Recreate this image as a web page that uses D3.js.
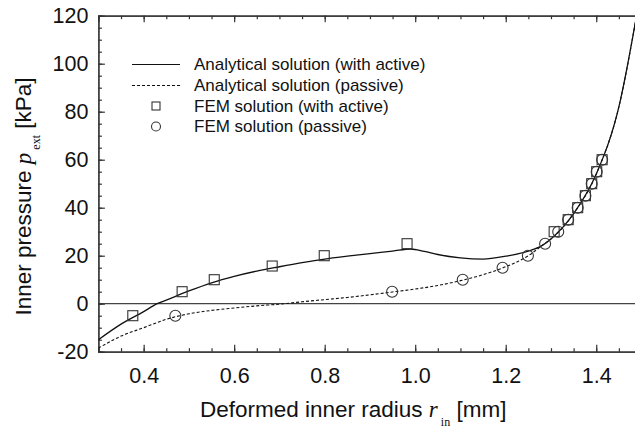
<!DOCTYPE html>
<html><head><meta charset="utf-8">
<script src="https://cdn.jsdelivr.net/npm/d3@7"></script>
<style>body{margin:0;background:#fff}svg{display:block}</style>
</head><body>
<script>
// Analytical solution (with active)
const activeX = [0.30,0.35,0.40,0.43,0.45,0.50,0.55,0.60,0.65,0.70,0.75,0.80,0.85,0.90,0.95,0.99,1.02,1.05,1.10,1.15,1.20,1.25,1.28,1.30,1.35,1.40,1.45,1.49];
const activeY = [-15,-8.5,-3.3,0,1.5,5.3,8.7,11.4,13.6,15.4,17.1,18.6,19.8,20.9,21.9,22.8,21.8,20.5,19.1,18.6,19.8,21.9,24.2,27,37.5,54,82,121];
// Analytical solution (passive)
const passiveX = [0.30,0.35,0.40,0.45,0.50,0.55,0.60,0.65,0.70,0.75,0.80,0.85,0.90,0.95,1.00,1.05,1.10,1.15,1.20,1.25,1.28,1.30,1.35,1.40,1.45,1.49];
const passiveY = [-18.5,-13.5,-10,-6.5,-4.2,-2.8,-1.8,-0.9,-0.2,0.8,1.7,2.6,3.7,4.9,6.1,7.6,9.6,12.1,15.4,20.0,24.2,27,37.5,54,82,121];
// FEM solution (with active)
const femActiveX = [0.376,0.485,0.556,0.684,0.799,0.982,1.307,1.338,1.359,1.376,1.390,1.401,1.413];
const femActiveY = [-5,5,10,15.7,20,25,30,35,40,45,50,55,60];
// FEM solution (passive)
const femPassiveX = [0.470,0.949,1.105,1.193,1.249,1.287,1.316,1.338,1.359,1.376,1.390,1.401,1.413];
const femPassiveY = [-5,5,10,15,20,25,30,35,40,45,50,55,60];
const xTicks = [0.4,0.6,0.8,1.0,1.2,1.4];
const yTicks = [-20,0,20,40,60,80,100,120];
const legendLabels = ["Analytical solution (with active)","Analytical solution (passive)","FEM solution (with active)","FEM solution (passive)"];

const W = 635, H = 429;
const svg = d3.select("body").append("svg").attr("width", W).attr("height", H);
const x = d3.scaleLinear().domain([0.3, 1.5]).range([98.4, 641.5]);
const y = d3.scaleLinear().domain([-20, 120]).range([351.7, 15.7]);
const axisColor = "#333";
const font = "Liberation Sans, Arial, sans-serif";
const serif = "Liberation Serif, Times New Roman, serif";

svg.append("clipPath").attr("id","c").append("rect")
  .attr("x", x(0.3)).attr("y", y(120)).attr("width", x(1.5)-x(0.3)).attr("height", y(-20)-y(120));

// zero line
svg.append("line").attr("x1", x(0.3)).attr("x2", x(1.5)).attr("y1", y(0)).attr("y2", y(0))
  .attr("stroke", "#444").attr("stroke-width", 1.2);

const minorX = d3.range(0.30, 1.5001, 0.05).map(v => +v.toFixed(2));
const minorY = d3.range(-20, 120.001, 5);

function styleAxis(g){ g.select(".domain").attr("stroke", axisColor).attr("stroke-width",1.2);
  g.selectAll(".tick line").attr("stroke", axisColor).attr("stroke-width",1.2); }

// bottom minor
svg.append("g").attr("transform",`translate(0,${y(-20)})`)
  .call(d3.axisTop(x).tickValues(minorX).tickSize(3.5).tickFormat("")).call(styleAxis);
// bottom major
const bx = svg.append("g").attr("transform",`translate(0,${y(-20)})`)
  .call(d3.axisBottom(x).tickValues(xTicks).tickSizeInner(-7).tickSizeOuter(0).tickPadding(16).tickFormat(d => d.toFixed(1)))
  .call(styleAxis);
bx.selectAll("text").attr("font-family", font).attr("font-size", 21.5).attr("fill","#111");
// top
svg.append("g").attr("transform",`translate(0,${y(120)})`)
  .call(d3.axisBottom(x).tickValues(minorX).tickSize(3.5).tickFormat("")).call(styleAxis);
svg.append("g").attr("transform",`translate(0,${y(120)})`)
  .call(d3.axisBottom(x).tickValues(xTicks).tickSize(6.5).tickFormat("")).call(styleAxis);
// left
svg.append("g").attr("transform",`translate(${x(0.3)},0)`)
  .call(d3.axisRight(y).tickValues(minorY).tickSize(3.5).tickFormat("")).call(styleAxis);
const ly = svg.append("g").attr("transform",`translate(${x(0.3)},0)`)
  .call(d3.axisLeft(y).tickValues(yTicks).tickSizeInner(-6.5).tickSizeOuter(0).tickPadding(10).tickFormat(d => String(d)))
  .call(styleAxis);
ly.selectAll("text").attr("font-family", font).attr("font-size", 21.5).attr("fill","#111");

// curves
const plot = svg.append("g").attr("clip-path","url(#c)");
const line = d3.line().x(d => x(d[0])).y(d => y(d[1])).curve(d3.curveMonotoneX);
plot.append("path").datum(d3.zip(passiveX, passiveY)).attr("d", line)
  .attr("fill","none").attr("stroke","#111").attr("stroke-width",1.1).attr("stroke-dasharray","3,2");
plot.append("path").datum(d3.zip(activeX, activeY)).attr("d", line)
  .attr("fill","none").attr("stroke","#111").attr("stroke-width",1.3);

// markers
const ms = 10;
plot.selectAll("rect.fa").data(d3.zip(femActiveX, femActiveY)).join("rect").attr("class","fa")
  .attr("x", d => x(d[0]) - ms/2).attr("y", d => y(d[1]) - ms/2).attr("width", ms).attr("height", ms)
  .attr("fill","none").attr("stroke","#333").attr("stroke-width",1.1);
plot.selectAll("circle.fp").data(d3.zip(femPassiveX, femPassiveY)).join("circle").attr("class","fp")
  .attr("cx", d => x(d[0])).attr("cy", d => y(d[1])).attr("r", ms/2 + 0.5)
  .attr("fill","none").attr("stroke","#333").attr("stroke-width",1.1);

// legend
const lg = svg.append("g");
const rows = [64.5, 85.5, 106, 126.5];
const lms = 8;
legendLabels.forEach((t, i) => {
  const yy = rows[i];
  if (i === 0) lg.append("line").attr("x1",132).attr("x2",180).attr("y1",yy).attr("y2",yy).attr("stroke","#111").attr("stroke-width",1.1);
  if (i === 1) lg.append("line").attr("x1",132).attr("x2",180).attr("y1",yy).attr("y2",yy).attr("stroke","#111").attr("stroke-width",1.1).attr("stroke-dasharray","3,2");
  if (i === 2) lg.append("rect").attr("x",156-lms/2).attr("y",yy-lms/2).attr("width",lms).attr("height",lms).attr("fill","none").attr("stroke","#333").attr("stroke-width",1.1);
  if (i === 3) lg.append("circle").attr("cx",156).attr("cy",yy).attr("r",lms/2+0.5).attr("fill","none").attr("stroke","#333").attr("stroke-width",1.1);
  lg.append("text").attr("x",194).attr("y",yy).attr("dy","0.35em").attr("font-family",font).attr("font-size",17).attr("fill","#111").text(t);
});

// axis titles
const xt = svg.append("text").attr("x", 200).attr("y", 417)
  .attr("font-family", font).attr("font-size", 22.5).attr("fill","#111");
xt.append("tspan").text("Deformed inner radius ");
xt.append("tspan").attr("font-family", serif).attr("font-style","italic").attr("font-size",23).text("r");
xt.append("tspan").attr("font-family", serif).attr("font-size",12).attr("dx",3).attr("dy",9).text("in");
xt.append("tspan").attr("dx",0).attr("dy",-9).text(" [mm]");

const yt = svg.append("text").attr("transform","translate(31,196.5) rotate(-90)").attr("text-anchor","middle")
  .attr("font-family", font).attr("font-size", 22.5).attr("fill","#111");
yt.append("tspan").text("Inner pressure ");
yt.append("tspan").attr("font-family", serif).attr("font-style","italic").attr("font-size",23).text("p");
yt.append("tspan").attr("font-family", serif).attr("font-size",12).attr("dx",3).attr("dy",9).text("ext");
yt.append("tspan").attr("dy",-9).text(" [kPa]");
</script>
</body></html>
